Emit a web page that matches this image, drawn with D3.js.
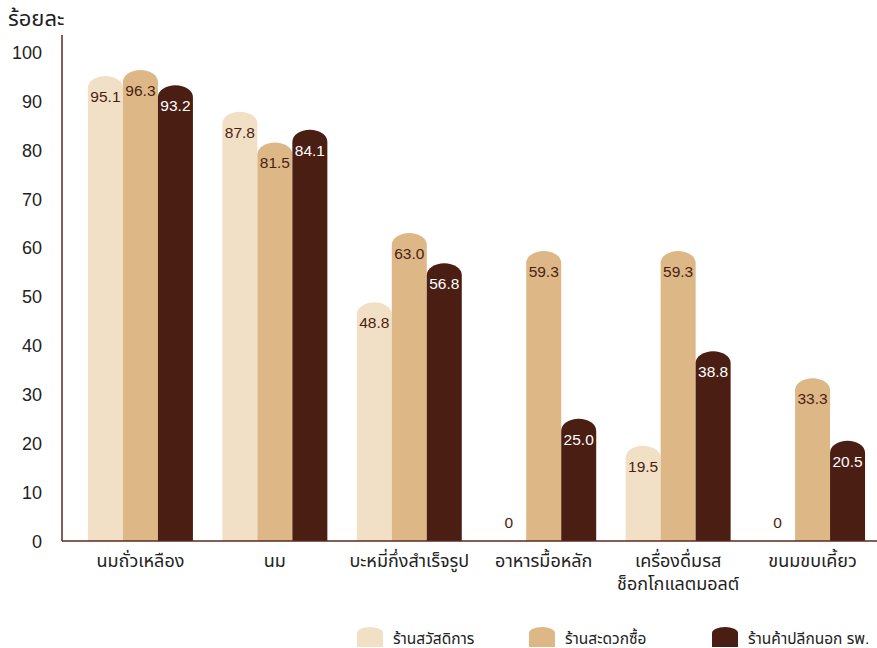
<!DOCTYPE html>
<html><head><meta charset="utf-8">
<script src="https://cdn.jsdelivr.net/npm/d3@7/dist/d3.min.js"></script>
<style>body{margin:0;background:#fff}svg{display:block}text{font-family:"Liberation Sans","Noto Sans Thai","Noto Sans Thai UI","Loma","Garuda","Waree","Noto Sans",Arial,sans-serif}</style>
</head><body><svg id="c" width="877" height="648"></svg>
<script>
const categories = [["นมถั่วเหลือง"],["นม"],["บะหมี่กึ่งสำเร็จรูป"],["อาหารมื้อหลัก"],["เครื่องดื่มรส","ช็อกโกแลตมอลต์"],["ขนมขบเคี้ยว"]];
const seriesNames = ["ร้านสวัสดิการ","ร้านสะดวกซื้อ","ร้านค้าปลีกนอก รพ."];
const welfare = [95.1, 87.8, 48.8, 0, 19.5, 0];
const convenience = [96.3, 81.5, 63.0, 59.3, 59.3, 33.3];
const retail = [93.2, 84.1, 56.8, 25.0, 38.8, 20.5];
const yTicks = [0,10,20,30,40,50,60,70,80,90,100];
const yTitle = "ร้อยละ";

const colors = ["#F2E0C6","#DDB886","#4A1E13"];
const textColors = ["#4A1E13","#4A1E13","#ffffff"];
const series = [welfare, convenience, retail];

const svg = d3.select("#c");
const y = d3.scaleLinear().domain([0,100]).range([541,52]);
const x0 = d3.scaleBand().domain(d3.range(categories.length)).range([73.3,879.7]).paddingInner(0.219).paddingOuter(0.109);
const x1 = d3.scaleBand().domain(d3.range(3)).range([0,x0.bandwidth()]);

function capPath(x, w, yTop, yBase, ry){
  const r = w/2;
  ry = Math.min(ry, yBase-yTop);
  return `M${x},${yBase}V${yTop+ry}A${r},${ry} 0 0 1 ${x+w},${yTop+ry}V${yBase}Z`;
}

// bars
series.forEach((vals, s) => {
  vals.forEach((v, i) => {
    const bx = x0(i) + x1(s), bw = x1.bandwidth();
    if (v > 0) {
      svg.append("path").attr("d", capPath(bx, bw, y(v), y(0), 12)).attr("fill", colors[s]);
      svg.append("text").attr("x", bx+bw/2).attr("y", y(v)+26).attr("text-anchor","middle")
        .attr("font-size",15.5).attr("fill",textColors[s]).text(v.toFixed(1));
    } else {
      svg.append("text").attr("x", bx+bw/2).attr("y", y(0)-13).attr("text-anchor","middle")
        .attr("font-size",15.5).attr("fill","#4A1E13").text("0");
    }
  });
});

// axes
const yAxis = d3.axisLeft(y).tickValues(yTicks).tickSize(0).tickPadding(20).tickFormat(d3.format("d"));
const gy = svg.append("g").attr("transform","translate(62,0)").call(yAxis);
gy.select(".domain").remove();
gy.selectAll("text").attr("font-size",18).attr("fill","#222").attr("dy","0.35em").style("font-family","'Liberation Sans',Arial,sans-serif");
svg.append("line").attr("x1",62).attr("x2",62).attr("y1",35).attr("y2",541).attr("stroke","#5a2a1c").attr("stroke-width",1.5);
svg.append("line").attr("x1",62).attr("x2",877).attr("y1",541).attr("y2",541).attr("stroke","#5a2a1c").attr("stroke-width",1.5);

svg.append("text").attr("x",8).attr("y",26).attr("font-size",22).attr("fill","#222").text(yTitle);

// category labels
categories.forEach((lines, i) => {
  const t = svg.append("text").attr("text-anchor","middle").attr("font-size",18).attr("fill","#222");
  lines.forEach((l, k) => {
    t.append("tspan").attr("x", x0(i)+x0.bandwidth()/2).attr("y", 567 + k*23).text(l);
  });
});

// legend
const legendX = [357, 529, 712];
seriesNames.forEach((n, s) => {
  svg.append("path").attr("d", capPath(legendX[s], 26, 627, 647, 6)).attr("fill", colors[s]);
  svg.append("text").attr("x", legendX[s]+36).attr("y", 644).attr("font-size",15.5).attr("fill","#222").text(n);
});
</script></body></html>
